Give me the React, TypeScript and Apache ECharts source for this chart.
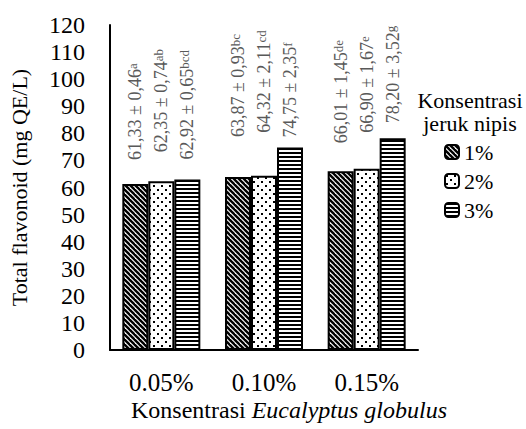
import React, { useEffect, useRef } from 'react';
import * as echarts from 'echarts';

const categories = ['0.05%', '0.10%', '0.15%'];
const seriesNames = ['1%', '2%', '3%'];
const values1 = [61.33, 63.87, 66.01];
const values2 = [62.35, 64.32, 66.9];
const values3 = [62.92, 74.75, 78.2];
const labels1 = ['61,33 ± 0,46', '63,87 ± 0,93', '66,01 ± 1,45'];
const labels2 = ['62,35 ± 0,74', '64,32 ± 2,11', '66,90 ± 1,67'];
const labels3 = ['62,92 ± 0,65', '74,75 ± 2,35', '78,20 ± 3,52'];
const sup1 = ['a', 'bc', 'de'];
const sup2 = ['ab', 'cd', 'e'];
const sup3 = ['bcd', 'f', 'g'];
// gap (px) between each bar top and the start of its rotated label
const labelGap1 = [24, 40, 28];
const labelGap2 = [29, 43, 36];
const labelGap3 = [20, 10, 15];
const yMin = 0;
const yMax = 120;
const yInterval = 10;
const yAxisTitle = 'Total flavonoid (mg QE/L)';
const xTitlePlain = 'Konsentrasi ';
const xTitleItalic = 'Eucalyptus globulus';
const legendTitle = ['Konsentrasi', 'jeruk nipis'];

const FONT = 'Liberation Serif';

function makePattern(kind: string): any {
  const c = document.createElement('canvas');
  let w = 5;
  let h = 5;
  if (kind === 'dots') { w = 8; h = 8; }
  if (kind === 'hlines') { w = 4; h = 4; }
  c.width = w;
  c.height = h;
  const ctx = c.getContext('2d')!;
  ctx.fillStyle = '#fff';
  ctx.fillRect(0, 0, w, h);
  ctx.fillStyle = '#000';
  ctx.strokeStyle = '#000';
  if (kind === 'diag') {
    ctx.lineWidth = 2.4;
    for (const o of [-w, 0, w]) {
      ctx.beginPath();
      ctx.moveTo(o - 1, -1);
      ctx.lineTo(o + w + 1, h + 1);
      ctx.stroke();
    }
  } else if (kind === 'dots') {
    ctx.fillRect(1, 1, 2, 2);
    ctx.fillRect(5, 5, 2, 2);
  } else {
    ctx.fillRect(0, 0, w, 2);
  }
  return { image: c, repeat: 'repeat', imageWidth: w, imageHeight: h };
}

export default function App() {
  const ref = useRef<HTMLDivElement>(null);
  useEffect(() => {
    if (!ref.current) return;
    const chart = echarts.init(ref.current, null, { renderer: 'svg' });
    const patterns = [makePattern('diag'), makePattern('dots'), makePattern('hlines')];
    const vals = [values1, values2, values3];
    const labs = [labels1, labels2, labels3];
    const sups = [sup1, sup2, sup3];
    const gaps = [labelGap1, labelGap2, labelGap3];
    const series = seriesNames.map((name, i) => ({
      name,
      type: 'bar',
      data: vals[i].map((v, j) => ({ value: v, label: { distance: gaps[i][j] } })),
      barWidth: 26,
      barGap: '0%',
      itemStyle: { color: patterns[i], borderColor: '#000', borderWidth: 2 },
      label: {
        show: true,
        position: 'top',
        rotate: 90,
        align: 'left',
        verticalAlign: 'middle',
        formatter: (p: any) => `{v|${labs[i][p.dataIndex]}}{s|${sups[i][p.dataIndex]}}`,
        rich: {
          v: { fontFamily: FONT, fontSize: 18, color: '#595959' },
          s: { fontFamily: FONT, fontSize: 13, color: '#595959', verticalAlign: 'top' },
        },
      },
    }));
    chart.setOption({
      animation: false,
      backgroundColor: '#fff',
      textStyle: { fontFamily: FONT },
      grid: { left: 110, right: 108, top: 25, bottom: 79 },
      xAxis: {
        type: 'category',
        data: categories,
        axisLine: { lineStyle: { color: '#000', width: 2 } },
        axisTick: { show: false },
        axisLabel: { fontFamily: FONT, fontSize: 25, color: '#000', margin: 20 },
      },
      yAxis: {
        type: 'value',
        min: yMin,
        max: yMax,
        interval: yInterval,
        name: yAxisTitle,
        nameLocation: 'middle',
        nameGap: 80,
        nameTextStyle: { fontFamily: FONT, fontSize: 22, color: '#000' },
        axisLine: { show: true, lineStyle: { color: '#000', width: 2 } },
        axisTick: { show: false },
        splitLine: { show: false },
        axisLabel: { fontFamily: FONT, fontSize: 24, color: '#000', margin: 25 },
      },
      legend: {
        orient: 'vertical',
        left: 439,
        top: 136,
        itemWidth: 14,
        itemHeight: 14,
        itemGap: 7,
        textStyle: { fontFamily: FONT, fontSize: 22, color: '#000', lineHeight: 22 },
        data: seriesNames,
      },
      graphic: [
        {
          type: 'text',
          x: 470,
          y: 100,
          style: { text: legendTitle[0], fontFamily: FONT, fontSize: 22, fill: '#000', align: 'center', verticalAlign: 'middle' },
        },
        {
          type: 'text',
          x: 470,
          y: 123,
          style: { text: legendTitle[1], fontFamily: FONT, fontSize: 22, fill: '#000', align: 'center', verticalAlign: 'middle' },
        },
        {
          type: 'text',
          x: 289,
          y: 410,
          style: {
            text: `{n|${xTitlePlain}}{i|${xTitleItalic}}`,
            align: 'center',
            verticalAlign: 'middle',
            rich: {
              n: { fontFamily: FONT, fontSize: 24, fill: '#000' },
              i: { fontFamily: FONT, fontSize: 24, fontStyle: 'italic', fill: '#000' },
            },
          },
        },
      ],
      series,
    } as any);
    return () => chart.dispose();
  }, []);
  return <div ref={ref} style={{ position: 'fixed', left: 0, top: 0, width: 526, height: 429 }} />;
}
